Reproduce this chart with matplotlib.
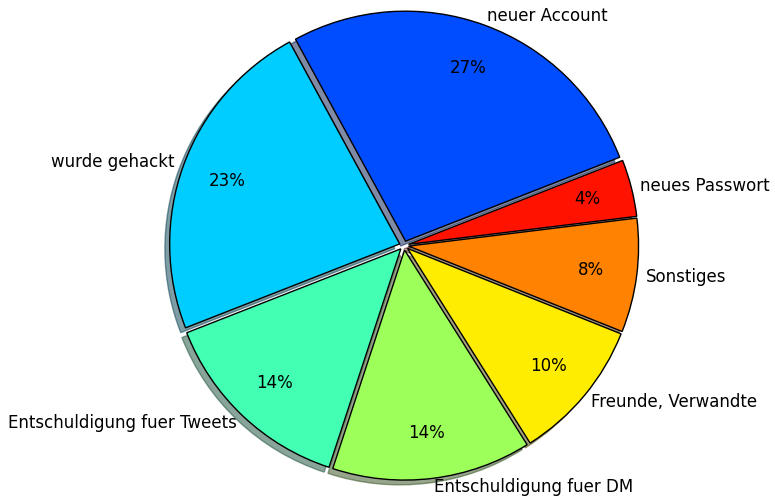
import numpy as np
import matplotlib
matplotlib.use("Agg")
import matplotlib.pyplot as plt
from matplotlib import cm

labels = ["neues Passwort", "neuer Account", "wurde gehackt",
          "Entschuldigung fuer Tweets", "Entschuldigung fuer DM",
          "Freunde, Verwandte", "Sonstiges"]
shares = [4, 27, 23, 14, 14, 10, 8]
color_pos = [0.89, 0.2, 0.325, 0.43, 0.54, 0.66, 0.77]

colors = [cm.jet(v) for v in color_pos]
explode = [0.02] * len(shares)

# pie centre and radius in pixels
cx, cy, r = 404.0, 245.5, 230.0

fig = plt.figure(figsize=(7.75, 4.97), dpi=100)
ax = fig.add_axes([0, 0, 1, 1])
ax.pie(shares, labels=labels, colors=colors, explode=explode,
       autopct="%1.0f%%", pctdistance=0.8, labeldistance=1.04,
       startangle=7, shadow={"ox": -0.015, "oy": -0.015},
       wedgeprops={"edgecolor": "black", "linewidth": 1.0},
       textprops={"fontsize": 12, "color": "black"})
ax.set_aspect("equal")
ax.set_xlim(-cx / r, (775 - cx) / r)
ax.set_ylim(-(497 - cy) / r, cy / r)
ax.axis("off")

fig.savefig("out.png", dpi=100)
